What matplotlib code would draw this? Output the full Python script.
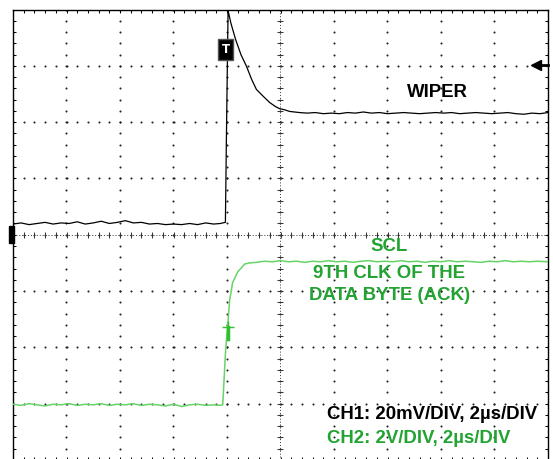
import matplotlib
matplotlib.use("Agg")
import matplotlib.pyplot as plt
from matplotlib.patches import Rectangle
import numpy as np

# time in us (2us/div), vertical in screen divisions
ch1_t = [-10.0, -9.7, -9.4, -9.1, -8.8, -8.5, -8.2, -7.9, -7.6, -7.3, -7.0, -6.7, -6.4,
         -6.1, -5.8, -5.5, -5.2, -4.9, -4.6, -4.3, -4.0, -3.7, -3.4, -3.1, -2.8, -2.5,
         -2.25, -2.06, -2.02, -1.96, -1.85, -1.68, -1.48, -1.27, -1.08, -0.90, -0.67,
         -0.41, -0.20, -0.04, 0.15, 0.34, 0.71, 1.0, 1.3, 1.6, 1.9, 2.2, 2.5, 2.8, 3.1,
         3.4, 3.7, 4.0, 4.3, 4.6, 4.9, 5.2, 5.5, 5.8, 6.1, 6.4, 6.7, 7.0, 7.3, 7.6, 7.9,
         8.2, 8.5, 8.8, 9.1, 9.4, 9.7, 10.0]
ch1_v = [0.19, 0.21, 0.18, 0.20, 0.22, 0.19, 0.21, 0.20, 0.23, 0.19, 0.21, 0.24, 0.20,
         0.22, 0.25, 0.21, 0.22, 0.19, 0.20, 0.18, 0.19, 0.18, 0.20, 0.18, 0.21, 0.19,
         0.20, 0.22, 1.80, 3.98, 3.75, 3.47, 3.20, 2.99, 2.76, 2.58, 2.47,
         2.35, 2.28, 2.24, 2.22, 2.19, 2.17, 2.16, 2.17, 2.15, 2.16, 2.15, 2.17, 2.16, 2.18,
         2.16, 2.17, 2.15, 2.16, 2.17, 2.16, 2.15, 2.16, 2.17, 2.16, 2.17, 2.15, 2.16, 2.17,
         2.16, 2.15, 2.16, 2.17, 2.15, 2.14, 2.16, 2.15, 2.17]

ch2_t = [-10.0, -9.7, -9.4, -9.1, -8.8, -8.5, -8.2, -7.9, -7.6, -7.3, -7.0, -6.7, -6.4,
         -6.1, -5.8, -5.5, -5.2, -4.9, -4.6, -4.3, -4.0, -3.7, -3.4, -3.1, -2.8, -2.5,
         -2.3, -2.16, -2.05, -1.98, -1.90, -1.79, -1.60, -1.34, -1.16, -0.9, -0.6, -0.3,
         0.0, 0.3, 0.6, 0.9, 1.2, 1.5, 1.8, 2.1, 2.4, 2.7, 3.0, 3.3, 3.6, 3.9, 4.2, 4.5,
         4.8, 5.1, 5.4, 5.7, 6.0, 6.3, 6.6, 6.9, 7.2, 7.5, 7.8, 8.1, 8.4, 8.7, 9.0, 9.3,
         9.6, 10.0]
ch2_v = [-3.01, -3.03, -3.00, -3.02, -3.04, -3.01, -3.02, -3.00, -3.03, -3.01, -3.02,
         -3.00, -3.03, -3.01, -3.02, -3.00, -3.03, -3.01, -3.02, -3.04, -3.01, -3.05,
         -3.02, -3.01, -3.03, -3.02, -3.03, -3.02, -2.04, -1.64, -1.16, -0.85, -0.66,
         -0.52, -0.50, -0.49, -0.47, -0.48, -0.46, -0.48, -0.47, -0.49, -0.47, -0.48,
         -0.46, -0.48, -0.47, -0.49, -0.47, -0.46, -0.48, -0.47, -0.48, -0.46, -0.48,
         -0.47, -0.49, -0.47, -0.48, -0.46, -0.48, -0.47, -0.48, -0.49, -0.47, -0.48,
         -0.46, -0.48, -0.47, -0.48, -0.47, -0.48]

green_trace = '#66d466'
green_text = '#22a332'

fig = plt.figure(figsize=(5.53, 4.59), dpi=100)
ax = fig.add_axes([13 / 553, -1 / 459, 535 / 553, 450.5 / 459])
ax.set_xlim(-10, 10)
ax.set_ylim(-4, 4)

# graticule dots
gx = np.arange(-10, 10.01, 0.4)
gy = np.arange(-4, 4.01, 0.2)
for xv in range(-10, 11, 2):
    ax.scatter(np.full(len(gy), xv), gy, s=2.2, c='#222222', linewidths=0, zorder=1)
for yv in range(-4, 5):
    ax.scatter(gx, np.full(len(gx), yv), s=2.2, c='#222222', linewidths=0, zorder=1)

# center axes with small ticks
ax.axhline(0, color='#333333', lw=0.7, ls=(0, (1, 2)), zorder=1)
ax.axvline(0, color='#333333', lw=0.7, ls=(0, (1, 2)), zorder=1)
ax.plot(gx, np.zeros(len(gx)), ls='none', marker='|', ms=5, mew=0.7, color='#333333', zorder=1)
ax.plot(np.zeros(len(gy)), gy, ls='none', marker='_', ms=5, mew=0.7, color='#333333', zorder=1)

# traces
ax.plot(ch1_t, ch1_v, color='black', lw=0.9, zorder=3)
ax.plot(ch2_t, ch2_v, color=green_trace, lw=1.1, zorder=3)

# markers
ax.text(-2.05, 3.29, 'T', color='white', fontsize=8.5, fontweight='bold', ha='center', va='center',
        bbox=dict(boxstyle='square,pad=0.3', fc='black', ec='#555555'), zorder=4)
ax.plot([-1.98], [-1.64], marker='+', ms=8, mew=1.0, color='#2fbf2f', zorder=4)
ax.plot([-1.98, -1.98], [-1.64, -1.86], color='#2fbf2f', lw=2.5, zorder=4)
ax.plot([9.55], [3.02], marker='<', ms=7.5, color='black', clip_on=False, zorder=4)
ax.plot([9.55, 10.0], [3.02, 3.02], color='black', lw=2, clip_on=False, zorder=4)
ax.add_patch(Rectangle((-10.15, -0.15), 0.2, 0.3, fc='black', ec='black', clip_on=False, zorder=4))

# edge ticks
ax.set_xticks(gx)
ax.set_yticks(gy)
ax.tick_params(direction='in', length=2.5, width=0.7, top=True, right=True,
               labelbottom=False, labelleft=False)
for sp in ax.spines.values():
    sp.set_linewidth(1.0)

font = 'Liberation Sans'
fs = 13.4
ax.text(5.86, 2.52, 'WIPER', fontsize=fs, fontweight='bold', family=font, ha='center', va='center')
ax.text(4.07, -0.2, 'SCL', fontsize=fs, fontweight='bold', family=font, color=green_text,
        ha='center', va='center')
ax.text(4.07, -0.68, '9TH CLK OF THE', fontsize=fs, fontweight='bold', family=font,
        color=green_text, ha='center', va='center')
ax.text(4.07, -1.07, 'DATA BYTE (ACK)', fontsize=fs, fontweight='bold', family=font,
        color=green_text, ha='center', va='center')
ax.text(1.72, -3.2, 'CH1: 20mV/DIV, 2µs/DIV', fontsize=fs, fontweight='bold', family=font,
        ha='left', va='center')
ax.text(1.72, -3.61, 'CH2: 2V/DIV, 2µs/DIV', fontsize=fs, fontweight='bold', family=font,
        color=green_text, ha='left', va='center')

fig.savefig('out.png', dpi=100)
